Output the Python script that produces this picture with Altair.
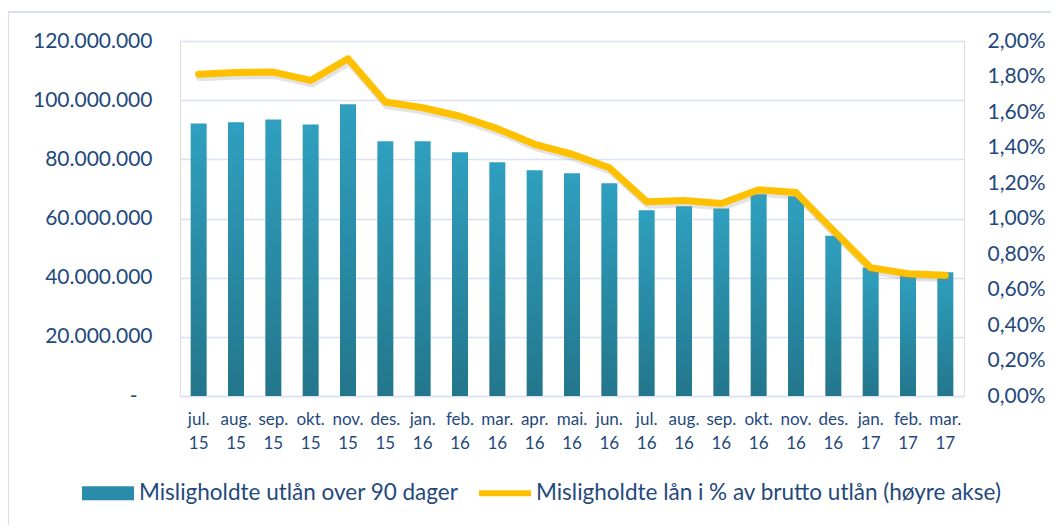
import altair as alt
import pandas as pd

months = ["jul. 15", "aug. 15", "sep. 15", "okt. 15", "nov. 15", "des. 15",
          "jan. 16", "feb. 16", "mar. 16", "apr. 16", "mai. 16", "jun. 16",
          "jul. 16", "aug. 16", "sep. 16", "okt. 16", "nov. 16", "des. 16",
          "jan. 17", "feb. 17", "mar. 17"]
utlan = [92.1, 92.5, 93.5, 91.8, 98.6, 86.1, 86.1, 82.4, 79.0, 76.3, 75.3, 71.9,
         62.8, 64.1, 63.4, 68.2, 67.5, 54.2, 43.4, 40.8, 41.8]  # millions NOK
pct = [1.812, 1.823, 1.825, 1.778, 1.900, 1.656, 1.624, 1.576, 1.506, 1.418, 1.362, 1.286,
       1.095, 1.102, 1.085, 1.162, 1.146, 0.933, 0.723, 0.689, 0.680]  # percent
series = ["Misligholdte utlån over 90 dager",
          "Misligholdte lån i % av brutto utlån (høyre akse)"]

df = pd.DataFrame({
    "mnd": months,
    "utlan": [v * 1e6 for v in utlan],
    "pct": [v / 100 for v in pct],
})
leg_df = pd.DataFrame({"serie": series})

TXT = "#1f497d"
GRID = "#d9e2f1"
FONT = "Lato"

x = alt.X("mnd:N", sort=months, title=None,
          scale=alt.Scale(paddingInner=0, paddingOuter=0),
          axis=alt.Axis(labelAngle=0, labelExpr="split(datum.label, ' ')",
                        labelFontSize=17, labelColor=TXT, labelFont=FONT,
                        labelLineHeight=24, labelPadding=15, labelBaseline="top",
                        ticks=False, domainColor=GRID, domainWidth=1.5,
                        grid=False))

bar_grad = alt.LinearGradient(
    gradient="linear",
    stops=[alt.GradientStop(offset=0, color="#2fa0c0"),
           alt.GradientStop(offset=1, color="#23768b")],
    x1=0, x2=0, y1=0, y2=1)

bars = alt.Chart(df).mark_bar(size=16, fill=bar_grad).encode(
    x=x,
    y=alt.Y("utlan:Q", title=None,
            scale=alt.Scale(domain=[0, 120e6], nice=False),
            axis=alt.Axis(values=[0, 20e6, 40e6, 60e6, 80e6, 100e6, 120e6],
                          labelExpr="datum.value == 0 ? '-\u2800' : replace(format(datum.value, ',d'), regexp(',', 'g'), '.')",
                          labelFontSize=21, labelColor=TXT, labelFont=FONT,
                          labelPadding=28, ticks=False, domain=False,
                          grid=True, gridColor=GRID, gridWidth=1.5)),
)

y_pct = alt.Y("pct:Q", title=None,
              scale=alt.Scale(domain=[0, 0.02], nice=False),
              axis=alt.Axis(orient="right",
                            values=[0, 0.002, 0.004, 0.006, 0.008, 0.01, 0.012,
                                    0.014, 0.016, 0.018, 0.02],
                            labelExpr="replace(format(datum.value, '.2%'), '.', ',')",
                            labelFontSize=21, labelColor=TXT, labelFont=FONT,
                            labelPadding=23, ticks=False, domain=False, grid=False))

shadow = alt.Chart(df).mark_line(
    color="#808080", opacity=0.22, strokeWidth=8, xOffset=1.5, yOffset=3,
    strokeCap="round", strokeJoin="round").encode(x=x, y=y_pct)

line = alt.Chart(df).mark_line(
    color="#FFC000", strokeWidth=7, strokeCap="round", strokeJoin="round"
).encode(x=x, y=y_pct)

legend_layer = alt.Chart(leg_df).mark_point(filled=True, size=0, opacity=1).encode(
    color=alt.Color("serie:N", sort=series, title=None,
                    scale=alt.Scale(domain=series, range=["#2a8caa", "#FFC000"]),
                    legend=alt.Legend(orient="none", legendX=-98, legendY=426,
                                      direction="horizontal", symbolSize=2704,
                                      symbolOpacity=1, symbolStrokeWidth=0,
                                      labelFontSize=22.5, labelColor=TXT,
                                      labelFont=FONT, labelLimit=600,
                                      labelOffset=5, columnPadding=20,
                                      padding=0)),
    shape=alt.Shape("serie:N", sort=series, title=None,
                    scale=alt.Scale(domain=series,
                                    range=["M-1,-0.27L1,-0.27L1,0.27L-1,0.27Z",
                                           "M-1,-0.12L1,-0.12L1,0.12L-1,0.12Z"])),
)

border = alt.Chart(leg_df).mark_rect(
    fillOpacity=0, stroke="#d6e0ee", strokeWidth=1.5
).encode(x=alt.value(-172), x2=alt.value(877), y=alt.value(-29), y2=alt.value(500))

left = alt.layer(border, bars)
right = alt.layer(shadow, line)

chart = alt.layer(left, right, legend_layer).resolve_scale(
    y="independent"
).properties(
    width=784, height=355,
    padding={"left": 172, "top": 33, "right": 87, "bottom": 129},
    autosize=alt.AutoSizeParams(type="none"),
).configure_view(stroke=None).configure(background="white")

chart.save("out.html", embed_options={"renderer": "svg", "actions": False})
